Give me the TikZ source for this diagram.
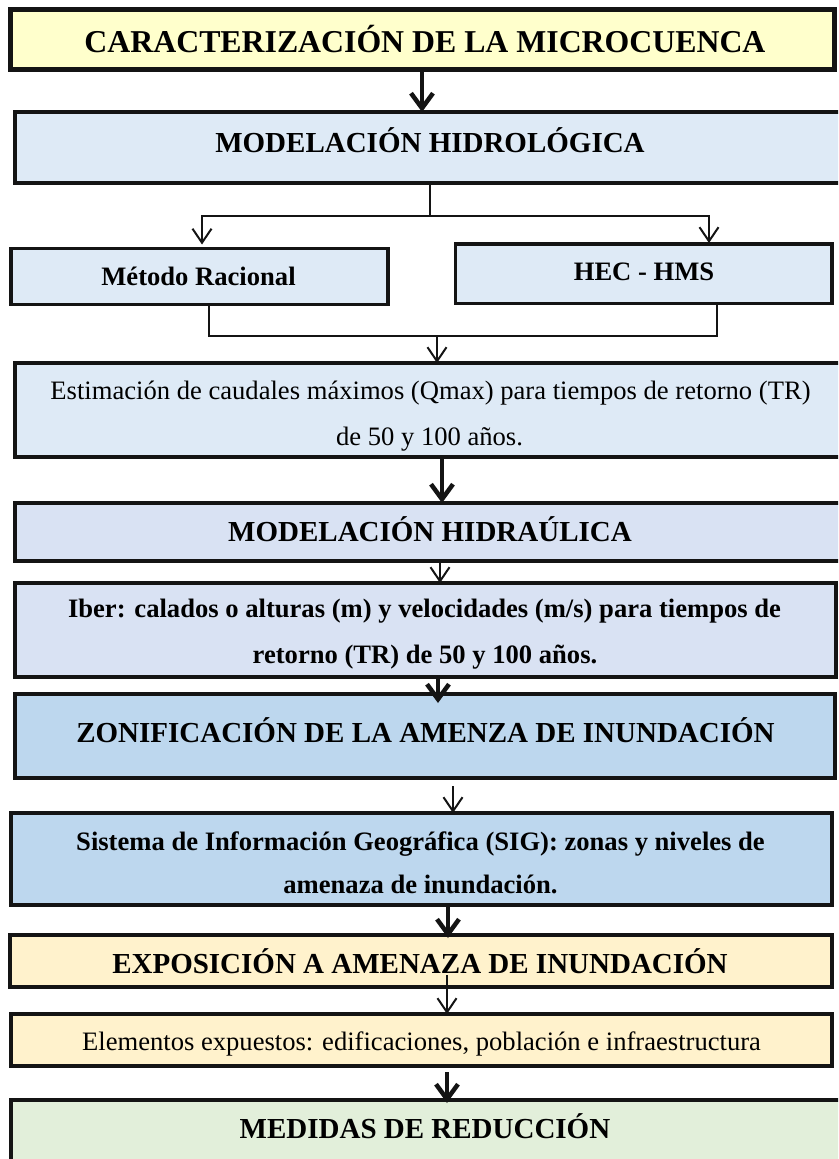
\documentclass[tikz,border=0pt]{standalone}
\usepackage{fontspec}
\setmainfont{Liberation Serif}
\usetikzlibrary{arrows.meta,calc}
\definecolor{cyel}{HTML}{FFFFCC}
\definecolor{cblueA}{HTML}{DEEAF6}
\definecolor{cblueB}{HTML}{D9E2F3}
\definecolor{cblueC}{HTML}{BDD7EE}
\definecolor{ccream}{HTML}{FFF2CC}
\definecolor{cgreen}{HTML}{E2EFDA}
\definecolor{cline}{HTML}{141414}
\tikzset{
  box/.style={draw=cline, inner sep=0pt, outer sep=0pt, line join=miter, anchor=north west, line width=3.5pt},
  ttl/.style={anchor=base, inner sep=0pt, font=\fontsize{31.8}{36}\selectfont\bfseries},
  hd/.style={anchor=base, inner sep=0pt, font=\fontsize{29}{34}\selectfont\bfseries},
  sbb/.style={anchor=base, inner sep=0pt, font=\fontsize{26.6}{30}\selectfont\bfseries},
  sbr/.style={anchor=base, inner sep=0pt, font=\fontsize{26.6}{30}\selectfont},
  thinline/.style={draw=cline, line width=2pt, line join=miter},
  thinarr/.style={thinline, -{Straight Barb[length=14pt,width=19pt,line width=2pt]}},
  thickarr/.style={draw=cline, line width=4.5pt, -{Straight Barb[length=15pt,width=22pt,line width=4.5pt]}}
}
\begin{document}
\begin{tikzpicture}[x=1pt,y=-1pt]
\useasboundingbox (0,0) rectangle (838,1159);
\clip (0,0) rectangle (838,1159);
% boxes
\node[box, fill=cyel, line width=5pt, minimum width=824pt, minimum height=60pt] (b1) at (10.5,9.5) {};
\node[box, fill=cblueA, line width=4.5pt, minimum width=830pt, minimum height=71pt] (b2) at (15,112) {};
\node[box, fill=cblueA, minimum width=377pt, minimum height=56pt] (bm) at (11,248.5) {};
\node[box, fill=cblueA, minimum width=376.5pt, minimum height=59.5pt] (bh) at (455.5,244) {};
\node[box, fill=cblueA, minimum width=830pt, minimum height=94pt] (b3) at (15,363) {};
\node[box, fill=cblueB, minimum width=830pt, minimum height=58pt] (b4) at (15,503) {};
\node[box, fill=cblueB, minimum width=821pt, minimum height=94pt] (b5) at (15,583) {};
\node[box, fill=cblueC, line width=4.5pt, minimum width=820pt, minimum height=84pt] (b6) at (15,694) {};
\node[box, fill=cblueC, minimum width=821pt, minimum height=92pt] (b7) at (11,813) {};
\node[box, fill=ccream, minimum width=822pt, minimum height=52pt] (b8) at (10,935) {};
\node[box, fill=ccream, minimum width=821pt, minimum height=52pt] (b9) at (11,1014) {};
\node[box, fill=cgreen, minimum width=834pt, minimum height=70pt] (b10) at (11,1100) {};
% texts
\node[ttl] (t1) at (425,52) {CARACTERIZACIÓN DE LA MICROCUENCA};
\node[hd] (t2) at (430,152) {MODELACIÓN HIDROLÓGICA};
\node[sbb] (tm) at (198.5,285) {Método Racional};
\node[sbb] (th) at (644,280) {HEC - HMS};
\node[sbr] (t3a) at (430.5,399) {Estimación de caudales máximos (Qmax) para tiempos de retorno (TR)};
\node[sbr] (t3b) at (429.5,445) {de 50 y 100 años.};
\node[hd] (t4) at (430,541) {MODELACIÓN HIDRAÚLICA};
\node[sbb] (t5a) at (424.5,617) {Iber: calados o alturas (m) y velocidades (m/s) para tiempos de};
\node[sbb] (t5b) at (425,663) {retorno (TR) de 50 y 100 años.};
\node[hd] (t6) at (425.5,742) {ZONIFICACIÓN DE LA AMENZA DE INUNDACIÓN};
\node[sbb] (t7a) at (420.5,850) {Sistema de Información Geográfica (SIG): zonas y niveles de};
\node[sbb] (t7b) at (420.5,893) {amenaza de inundación.};
\node[hd] (t8) at (420,973) {EXPOSICIÓN A AMENAZA DE INUNDACIÓN};
\node[sbr] (t9) at (421.5,1050) {Elementos expuestos: edificaciones, población e infraestructura};
\node[hd] (t10) at (425,1138) {MEDIDAS DE REDUCCIÓN};
% helper coordinates
\coordinate (x422) at (422,0);
\coordinate (j1) at (430,216);
\coordinate (x202) at (202,0);
\coordinate (x709) at (709,0);
\coordinate (x209) at (209,0);
\coordinate (x717) at (717,0);
\coordinate (j2) at (437,336);
\coordinate (x442) at (442,0);
\coordinate (x440) at (440,0);
\coordinate (x438) at (438,0);
\coordinate (x453) at (453,0);
\coordinate (x448) at (448,0);
\coordinate (x447) at (447,0);
% connectors
\draw[thickarr] (b1.south -| x422) -- (b2.north -| x422);
\draw[thinline] (b2.south -| j1) -- (j1);
\draw[thinarr] (j1) -| ([yshift=4pt]bm.north -| x202);
\draw[thinarr] (j1) -| ([yshift=1pt]bh.north -| x709);
\draw[thinline] (bm.south -| x209) |- (j2) -| (bh.south -| x717);
\draw[thinarr] (j2) -- (b3.north -| j2);
\draw[thickarr] (b3.south -| x442) -- (b4.north -| x442);
\draw[thinarr] (b4.south -| x440) -- (b5.north -| x440);
\draw[thickarr] (b5.south -| x438) -- ([yshift=-9pt]b6.north -| x438);
\draw[thinarr] ([yshift=-8pt]b6.south -| x453) -- (b7.north -| x453);
\draw[thickarr] (b7.south -| x448) -- ([yshift=-3pt]b8.north -| x448);
\draw[thinarr] ([yshift=12pt]b8.south -| x447) -- (b9.north -| x447);
\draw[thickarr] ([yshift=-6pt]b9.south -| x447) -- ([yshift=-3pt]b10.north -| x447);
\end{tikzpicture}
\end{document}
